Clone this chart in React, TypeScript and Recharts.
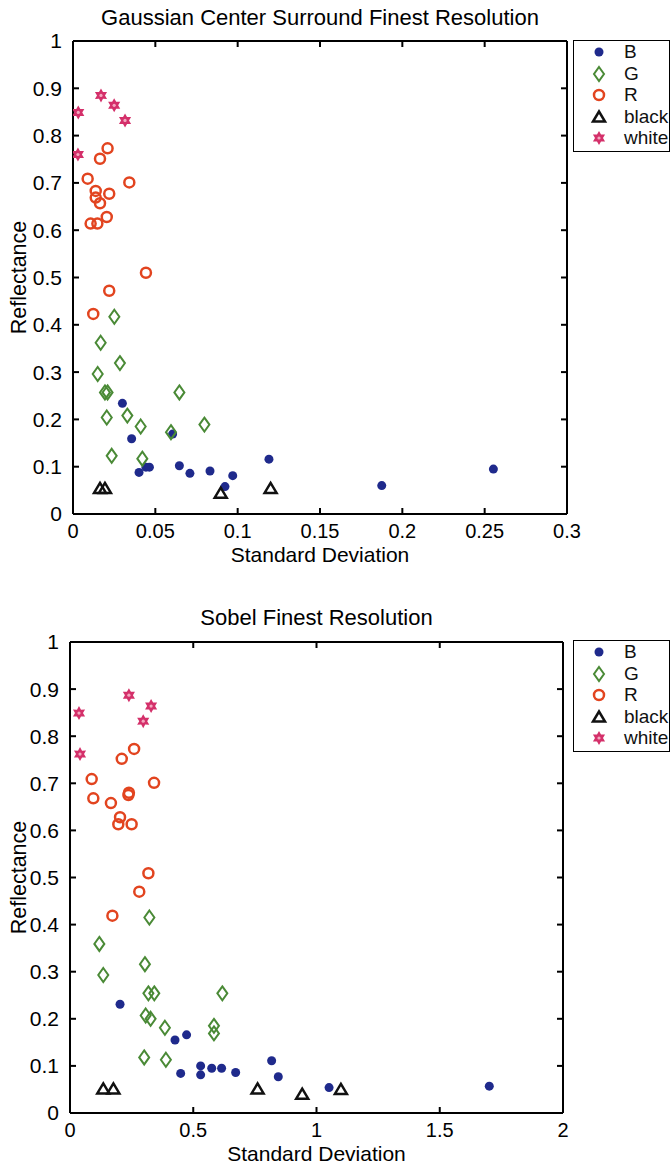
import { ScatterChart, Scatter, XAxis, YAxis, Text } from "recharts";

// Reflectance vs. standard deviation, two panels

const yTicks = [0, 0.1, 0.2, 0.3, 0.4, 0.5, 0.6, 0.7, 0.8, 0.9, 1];
const gcsXTicks = [0, 0.05, 0.1, 0.15, 0.2, 0.25, 0.3];
const sobelXTicks = [0, 0.5, 1, 1.5, 2];

const seriesNames = ["B", "G", "R", "black", "white"];

// Gaussian Center Surround Finest Resolution
const gcsB: [number, number][] = [
  [0.03, 0.234], [0.0356, 0.159], [0.0605, 0.169], [0.0401, 0.088], [0.0443, 0.099],
  [0.0464, 0.099], [0.0646, 0.102], [0.071, 0.086], [0.0832, 0.091], [0.097, 0.081],
  [0.0923, 0.058], [0.119, 0.116], [0.1875, 0.06], [0.2553, 0.095],
];
const gcsG: [number, number][] = [
  [0.0251, 0.417], [0.0168, 0.362], [0.0285, 0.319], [0.015, 0.296], [0.0194, 0.257],
  [0.021, 0.257], [0.0646, 0.257], [0.033, 0.208], [0.0205, 0.204], [0.0411, 0.185],
  [0.0798, 0.189], [0.0595, 0.173], [0.0235, 0.123], [0.0421, 0.117],
];
const gcsR: [number, number][] = [
  [0.021, 0.773], [0.0164, 0.751], [0.0089, 0.709], [0.0342, 0.701], [0.0138, 0.683],
  [0.022, 0.677], [0.0138, 0.669], [0.0164, 0.657], [0.0205, 0.628], [0.0107, 0.614],
  [0.0148, 0.614], [0.0443, 0.51], [0.022, 0.472], [0.0123, 0.423],
];
const gcsBlack: [number, number][] = [
  [0.0164, 0.054], [0.0194, 0.054], [0.0897, 0.044], [0.12, 0.054],
];
const gcsWhite: [number, number][] = [
  [0.0032, 0.849], [0.017, 0.885], [0.025, 0.864], [0.0316, 0.832], [0.003, 0.76],
];

// Sobel Finest Resolution
const sobelB: [number, number][] = [
  [0.203, 0.231], [0.426, 0.155], [0.473, 0.166], [0.449, 0.084], [0.53, 0.1],
  [0.53, 0.081], [0.575, 0.095], [0.615, 0.095], [0.672, 0.086], [0.818, 0.111],
  [0.845, 0.077], [1.051, 0.054], [1.701, 0.057],
];
const sobelG: [number, number][] = [
  [0.322, 0.415], [0.119, 0.359], [0.304, 0.316], [0.135, 0.293], [0.318, 0.254],
  [0.342, 0.254], [0.618, 0.254], [0.307, 0.207], [0.327, 0.2], [0.385, 0.181],
  [0.584, 0.185], [0.584, 0.169], [0.301, 0.118], [0.389, 0.113],
];
const sobelR: [number, number][] = [
  [0.26, 0.773], [0.21, 0.752], [0.088, 0.709], [0.341, 0.701], [0.0946, 0.668],
  [0.166, 0.658], [0.239, 0.68], [0.237, 0.675], [0.203, 0.628], [0.196, 0.613],
  [0.25, 0.613], [0.318, 0.509], [0.281, 0.47], [0.172, 0.419],
];
const sobelBlack: [number, number][] = [
  [0.135, 0.051], [0.176, 0.051], [0.761, 0.051], [0.942, 0.04], [1.099, 0.05],
];
const sobelWhite: [number, number][] = [
  [0.0365, 0.849], [0.239, 0.887], [0.329, 0.864], [0.297, 0.832], [0.0406, 0.762],
];

const toPts = (arr: [number, number][]) => arr.map(([x, y]) => ({ x, y }));

const FONT = '"Liberation Sans", Arial, Helvetica, sans-serif';
const TICK_LEN = 6;
const X_GAP = 10;
const Y_GAP = 11;

function Marker({ kind, cx, cy }: { kind: string; cx: number; cy: number }) {
  if (cx == null || cy == null) return null;
  if (kind === "B") return <circle cx={cx} cy={cy} r={4.5} fill="#1f2a8c" />;
  if (kind === "G")
    return (
      <path
        d={`M${cx},${cy - 7}L${cx + 5},${cy}L${cx},${cy + 7}L${cx - 5},${cy}Z`}
        fill="none"
        stroke="#4a8a36"
        strokeWidth={2}
      />
    );
  if (kind === "R") return <circle cx={cx} cy={cy} r={5} fill="none" stroke="#e2441f" strokeWidth={2.5} />;
  if (kind === "black")
    return (
      <path
        d={`M${cx},${cy - 5.5}L${cx + 6},${cy + 4.5}L${cx - 6},${cy + 4.5}Z`}
        fill="none"
        stroke="#111"
        strokeWidth={2.5}
      />
    );
  // six-pointed star
  const pts: string[] = [];
  for (let i = 0; i < 12; i++) {
    const a = ((-90 + i * 30) * Math.PI) / 180;
    const r = i % 2 === 0 ? 7 : 4;
    pts.push(`${cx + r * Math.cos(a)},${cy + r * Math.sin(a)}`);
  }
  return (
    <g>
      <polygon points={pts.join(" ")} fill="#d4306a" />
      <circle cx={cx} cy={cy} r={1.6} fill="#f4a8c0" />
    </g>
  );
}

// MATLAB-style ticks: short marks pointing into the plot box
const BottomTick = (p: any) => (
  <g>
    <line x1={p.x} y1={p.y - X_GAP} x2={p.x} y2={p.y - X_GAP - TICK_LEN} stroke="#000" strokeWidth={2} />
    <Text x={p.x} y={p.y} textAnchor="middle" verticalAnchor="start" fontSize={20} fill="#000">
      {p.payload.value}
    </Text>
  </g>
);
const LeftTick = (p: any) => (
  <g>
    <line x1={p.x + Y_GAP} y1={p.y} x2={p.x + Y_GAP + TICK_LEN} y2={p.y} stroke="#000" strokeWidth={2} />
    <Text x={p.x} y={p.y} textAnchor="end" verticalAnchor="middle" fontSize={21} fill="#000">
      {p.payload.value}
    </Text>
  </g>
);
const TopTick = (p: any) => (
  <line x1={p.x} y1={p.y} x2={p.x} y2={p.y + TICK_LEN} stroke="#000" strokeWidth={2} />
);
const RightTick = (p: any) => (
  <line x1={p.x} y1={p.y} x2={p.x - TICK_LEN} y2={p.y} stroke="#000" strokeWidth={2} />
);

function LegendBox({ left, top }: { left: number; top: number }) {
  return (
    <div
      style={{
        position: "absolute",
        left,
        top,
        width: 97,
        height: 112,
        border: "1.5px solid #000",
        boxSizing: "border-box",
        background: "#fff",
      }}
    >
      {seriesNames.map((name, i) => (
        <div
          key={name}
          style={{
            position: "absolute",
            left: 0,
            top: 1 + i * 21.5,
            height: 20,
            display: "flex",
            alignItems: "center",
          }}
        >
          <svg width={50} height={20}>
            <Marker kind={name} cx={25} cy={10} />
          </svg>
          <span style={{ fontSize: 19, color: "#111", lineHeight: "20px" }}>{name}</span>
        </div>
      ))}
    </div>
  );
}

type PanelProps = {
  title: string;
  height: number;
  margin: { top: number; right: number; bottom: number; left: number };
  xMax: number;
  xTicks: number[];
  xLabelOffset: number;
  titleOffset: number;
  yLabelOffset: number;
  series: [number, number][][];
};

function Panel({ title, height, margin, xMax, xTicks, xLabelOffset, titleOffset, yLabelOffset, series }: PanelProps) {
  const line = { stroke: "#000", strokeWidth: 2 };
  return (
    <ScatterChart width={671} height={height} margin={margin}>
      <XAxis
        type="number"
        dataKey="x"
        domain={[0, xMax]}
        ticks={xTicks}
        interval={0}
        allowDataOverflow
        height={50}
        tickSize={0}
        tickMargin={X_GAP}
        axisLine={line}
        tickLine={false}
        tick={<BottomTick />}
        label={{
          value: "Standard Deviation",
          position: "insideBottom",
          offset: xLabelOffset,
          style: { fontSize: 21, fill: "#000" },
        }}
      />
      <XAxis
        xAxisId="top"
        orientation="top"
        type="number"
        dataKey="x"
        domain={[0, xMax]}
        ticks={xTicks}
        interval={0}
        allowDataOverflow
        height={1}
        tickSize={0}
        tickMargin={0}
        axisLine={line}
        tickLine={false}
        tick={<TopTick />}
        label={{ value: title, position: "top", offset: titleOffset, style: { fontSize: 22, fill: "#000" } }}
      />
      <YAxis
        type="number"
        dataKey="y"
        domain={[0, 1]}
        ticks={yTicks}
        interval={0}
        allowDataOverflow
        width={60}
        tickSize={0}
        tickMargin={Y_GAP}
        axisLine={line}
        tickLine={false}
        tick={<LeftTick />}
        label={{
          value: "Reflectance",
          angle: -90,
          position: "insideLeft",
          offset: yLabelOffset,
          style: { textAnchor: "middle", fontSize: 21.5, fill: "#000" },
        }}
      />
      <YAxis
        yAxisId="right"
        orientation="right"
        type="number"
        dataKey="y"
        domain={[0, 1]}
        ticks={yTicks}
        interval={0}
        allowDataOverflow
        width={1}
        tickSize={0}
        tickMargin={0}
        axisLine={line}
        tickLine={false}
        tick={<RightTick />}
      />
      {seriesNames.map((name, i) => {
        // the last series is bound to the top/right axes (same domains) so the frame axes render
        const framed = i === seriesNames.length - 1;
        return (
          <Scatter
            key={name}
            name={name}
            data={toPts(series[i])}
            xAxisId={framed ? "top" : 0}
            yAxisId={framed ? "right" : 0}
            isAnimationActive={false}
            shape={(p: any) => <Marker kind={name} cx={p.cx} cy={p.cy} />}
          />
        );
      })}
    </ScatterChart>
  );
}

export default function App() {
  return (
    <div
      style={{
        position: "absolute",
        left: 0,
        top: 0,
        width: 671,
        height: 1167,
        background: "#fff",
        fontFamily: FONT,
        overflow: "hidden",
      }}
    >
      <div style={{ position: "absolute", left: 0, top: 0 }}>
        <Panel
          title="Gaussian Center Surround Finest Resolution"
          height={600}
          margin={{ top: 40, right: 103, bottom: 36, left: 13 }}
          xMax={0.3}
          xTicks={gcsXTicks}
          xLabelOffset={2}
          titleOffset={15}
          yLabelOffset={5}
          series={[gcsB, gcsG, gcsR, gcsBlack, gcsWhite]}
        />
      </div>
      <LegendBox left={573} top={40} />
      <div style={{ position: "absolute", left: 0, top: 600 }}>
        <Panel
          title="Sobel Finest Resolution"
          height={567}
          margin={{ top: 41, right: 107, bottom: 4, left: 10 }}
          xMax={2}
          xTicks={sobelXTicks}
          xLabelOffset={2}
          titleOffset={16}
          yLabelOffset={8}
          series={[sobelB, sobelG, sobelR, sobelBlack, sobelWhite]}
        />
      </div>
      <LegendBox left={573} top={640} />
    </div>
  );
}
